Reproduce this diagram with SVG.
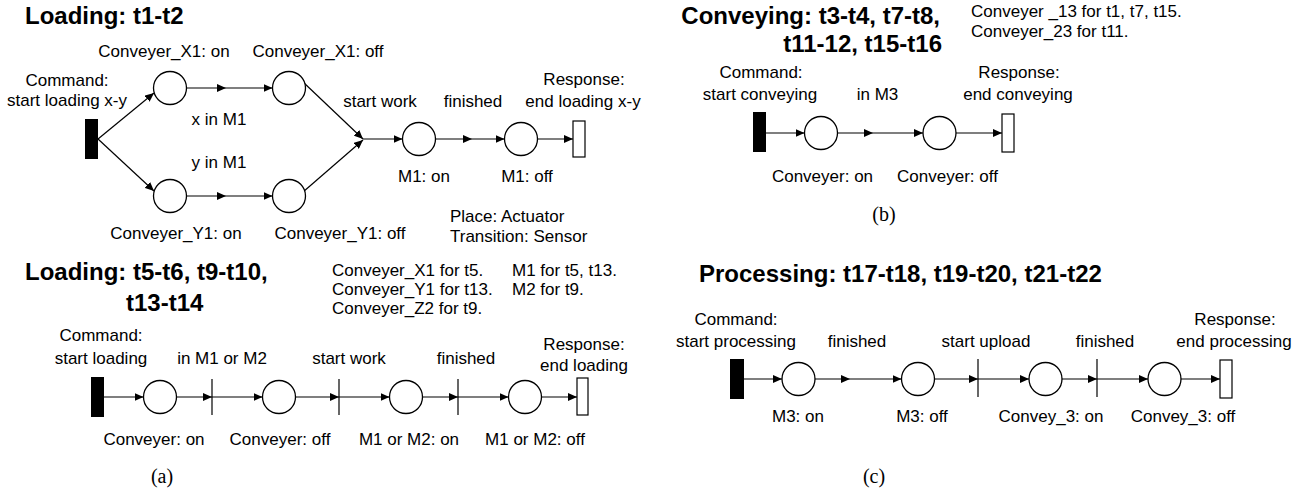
<svg xmlns="http://www.w3.org/2000/svg" width="1309" height="490" viewBox="0 0 1309 490">
<style>
.t{font-family:"Liberation Sans",Arial,sans-serif;font-size:17px;fill:#000}
.m{text-anchor:middle}
.h{font-family:"Liberation Sans",Arial,sans-serif;font-size:24px;font-weight:bold;fill:#000}
.cap{font-family:"Liberation Serif","Times New Roman",serif;font-size:20px;fill:#000;text-anchor:middle}
.pl{fill:#fff;stroke:#000;stroke-width:1.3}
.tb{fill:#000}
.to{fill:#fff;stroke:#000;stroke-width:1.2}
.bar{stroke:#000;stroke-width:1.2}
.cn{fill:none;stroke:#000;stroke-width:1.2;marker-end:url(#ah)}
</style>
<defs>
<marker id="ah" markerUnits="userSpaceOnUse" markerWidth="9" markerHeight="8" viewBox="0 0 9 8" refX="9" refY="4" orient="auto">
<path d="M0,0 L9,4 L0,8 z" fill="#000"/>
</marker>
</defs>
<rect width="1309" height="490" fill="#fff"/>

<!-- Titles and notes -->
<g id="titles">
<text class="h" x="25" y="24">Loading: t1-t2</text>
<text class="h" x="25" y="280">Loading: t5-t6, t9-t10,</text>
<text class="h" x="126" y="311">t13-t14</text>
<text class="h" x="940" y="24" text-anchor="end">Conveying: t3-t4, t7-t8,</text>
<text class="h" x="942" y="52" text-anchor="end">t11-12, t15-t16</text>
<text class="h" x="699" y="282">Processing: t17-t18, t19-t20, t21-t22</text>
</g>
<g id="notes">
<text class="t" x="450" y="222">Place: Actuator</text>
<text class="t" x="450" y="242">Transition: Sensor</text>
<text class="t" x="332" y="276">Conveyer_X1 for t5.</text>
<text class="t" x="332" y="295">Conveyer_Y1 for t13.</text>
<text class="t" x="332" y="314">Conveyer_Z2 for t9.</text>
<text class="t" x="512" y="276">M1 for t5, t13.</text>
<text class="t" x="512" y="295">M2 for t9.</text>
<text class="t" x="971" y="17">Conveyer _13 for t1, t7, t15.</text>
<text class="t" x="971" y="37">Conveyer_23 for t11.</text>
<text class="cap" x="162" y="483">(a)</text>
<text class="cap" x="884" y="221">(b)</text>
<text class="cap" x="874" y="483">(c)</text>
</g>

<!-- Connectors -->
<g id="connectors">
<!-- (a) top -->
<path class="cn" d="M98,139 L154,93"/>
<path class="cn" d="M98,139 L154,191"/>
<path class="cn" d="M186.5,88 L226,88"/>
<path class="cn" d="M226,88 L272.5,88"/>
<path class="cn" d="M186.5,196 L226,196"/>
<path class="cn" d="M226,196 L272.5,196"/>
<path class="cn" d="M303,82 L363,139"/>
<path class="cn" d="M303,192 L363,140"/>
<path class="cn" d="M363,139 L402.5,139"/>
<path class="cn" d="M435.5,139 L472,139"/>
<path class="cn" d="M472,139 L504.5,139"/>
<path class="cn" d="M537.5,139 L573,139"/>
<!-- (a) bottom -->
<path class="cn" d="M104,397 L143.5,397"/>
<path class="cn" d="M176.5,397 L212,397"/>
<path class="cn" d="M212,397 L262.5,397"/>
<path class="cn" d="M295.5,397 L339,397"/>
<path class="cn" d="M339,397 L389.5,397"/>
<path class="cn" d="M422.5,397 L458,397"/>
<path class="cn" d="M458,397 L508.5,397"/>
<path class="cn" d="M541.5,397 L577,397"/>
<!-- (b) -->
<path class="cn" d="M766,133 L804.5,133"/>
<path class="cn" d="M837.5,133 L873,133"/>
<path class="cn" d="M873,133 L923,133"/>
<path class="cn" d="M956,133 L1002,133"/>
<!-- (c) -->
<path class="cn" d="M744,379 L782,379"/>
<path class="cn" d="M815,379 L850,379"/>
<path class="cn" d="M850,379 L901.5,379"/>
<path class="cn" d="M934.5,379 L978,379"/>
<path class="cn" d="M978,379 L1029,379"/>
<path class="cn" d="M1062,379 L1097,379"/>
<path class="cn" d="M1097,379 L1148,379"/>
<path class="cn" d="M1181,379 L1220,379"/>
</g>

<!-- (a) top nodes -->
<g id="a1-cmd"><rect class="tb" x="85" y="119" width="13" height="40"/>
<text class="t m" x="67" y="86">Command:</text><text class="t m" x="67" y="106">start loading x-y</text></g>
<g id="a1-x1on"><circle class="pl" cx="170" cy="88" r="16.5"/><text class="t m" x="164" y="57">Conveyer_X1: on</text></g>
<g id="a1-x1off"><circle class="pl" cx="289" cy="88" r="16.5"/><text class="t m" x="318" y="57">Conveyer_X1: off</text></g>
<g id="a1-y1on"><circle class="pl" cx="170" cy="196" r="16.5"/><text class="t m" x="176" y="239">Conveyer_Y1: on</text></g>
<g id="a1-y1off"><circle class="pl" cx="289" cy="196" r="16.5"/><text class="t m" x="340" y="239">Conveyer_Y1: off</text></g>
<g id="a1-xin"><text class="t m" x="219" y="125">x in M1</text></g>
<g id="a1-yin"><text class="t m" x="219" y="168">y in M1</text></g>
<g id="a1-start"><text class="t m" x="380" y="107">start work</text></g>
<g id="a1-m1on"><circle class="pl" cx="419" cy="139" r="16.5"/><text class="t m" x="424" y="182">M1: on</text></g>
<g id="a1-fin"><text class="t m" x="473" y="107">finished</text></g>
<g id="a1-m1off"><circle class="pl" cx="521" cy="139" r="16.5"/><text class="t m" x="527" y="182">M1: off</text></g>
<g id="a1-resp"><rect class="to" x="573" y="121" width="12" height="36"/>
<text class="t m" x="584" y="85">Response:</text><text class="t m" x="583" y="107">end loading x-y</text></g>

<!-- (a) bottom nodes -->
<g id="a2-cmd"><rect class="tb" x="91" y="377" width="13" height="40"/>
<text class="t m" x="101" y="341">Command:</text><text class="t m" x="101" y="364">start loading</text></g>
<g id="a2-p1"><circle class="pl" cx="160" cy="397" r="16.5"/><text class="t m" x="154" y="445">Conveyer: on</text></g>
<g id="a2-t1"><line class="bar" x1="212" y1="379" x2="212" y2="415"/><text class="t m" x="222" y="364">in M1 or M2</text></g>
<g id="a2-p2"><circle class="pl" cx="279" cy="397" r="16.5"/><text class="t m" x="280" y="445">Conveyer: off</text></g>
<g id="a2-t2"><line class="bar" x1="339" y1="379" x2="339" y2="415"/><text class="t m" x="349" y="364">start work</text></g>
<g id="a2-p3"><circle class="pl" cx="406" cy="397" r="16.5"/><text class="t m" x="409" y="445">M1 or M2: on</text></g>
<g id="a2-t3"><line class="bar" x1="458" y1="379" x2="458" y2="415"/><text class="t m" x="466" y="364">finished</text></g>
<g id="a2-p4"><circle class="pl" cx="525" cy="397" r="16.5"/><text class="t m" x="535" y="445">M1 or M2: off</text></g>
<g id="a2-resp"><rect class="to" x="577" y="378" width="11" height="37"/>
<text class="t m" x="584" y="350">Response:</text><text class="t m" x="584" y="371">end loading</text></g>

<!-- (b) nodes -->
<g id="b-cmd"><rect class="tb" x="753" y="112" width="13" height="40"/>
<text class="t m" x="761" y="78">Command:</text><text class="t m" x="760" y="100">start conveying</text></g>
<g id="b-p1"><circle class="pl" cx="821" cy="133" r="16.5"/><text class="t m" x="822.5" y="182">Conveyer: on</text></g>
<g id="b-t1"><text class="t m" x="877.5" y="100">in M3</text></g>
<g id="b-p2"><circle class="pl" cx="939.5" cy="133" r="16.5"/><text class="t m" x="947.5" y="182">Conveyer: off</text></g>
<g id="b-resp"><rect class="to" x="1002" y="114" width="12" height="38"/>
<text class="t m" x="1019" y="78">Response:</text><text class="t m" x="1018" y="100">end conveying</text></g>

<!-- (c) nodes -->
<g id="c-cmd"><rect class="tb" x="730" y="359" width="14" height="40"/>
<text class="t m" x="736" y="325">Command:</text><text class="t m" x="736" y="347">start processing</text></g>
<g id="c-p1"><circle class="pl" cx="798.5" cy="379" r="16.5"/><text class="t m" x="798" y="422">M3: on</text></g>
<g id="c-t1"><text class="t m" x="857" y="347">finished</text></g>
<g id="c-p2"><circle class="pl" cx="918" cy="379" r="16.5"/><text class="t m" x="922" y="422">M3: off</text></g>
<g id="c-t2"><line class="bar" x1="978" y1="359" x2="978" y2="397"/><text class="t m" x="986" y="347">start upload</text></g>
<g id="c-p3"><circle class="pl" cx="1045.5" cy="379" r="16.5"/><text class="t m" x="1051" y="422">Convey_3: on</text></g>
<g id="c-t3"><line class="bar" x1="1097" y1="359" x2="1097" y2="397"/><text class="t m" x="1105" y="347">finished</text></g>
<g id="c-p4"><circle class="pl" cx="1164.5" cy="379" r="16.5"/><text class="t m" x="1183" y="422">Convey_3: off</text></g>
<g id="c-resp"><rect class="to" x="1220" y="360" width="12" height="38"/>
<text class="t m" x="1235" y="325">Response:</text><text class="t m" x="1234" y="347">end processing</text></g>
</svg>
